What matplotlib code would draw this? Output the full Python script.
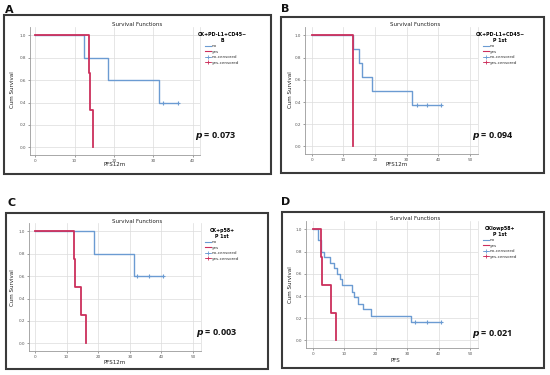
import matplotlib.pyplot as plt
from matplotlib.lines import Line2D
from matplotlib.patches import Rectangle

# ---- data ----
A_no_t = [0, 12.3, 18.6, 31.4, 36.3]
A_no_s = [1.0, 0.8, 0.6, 0.4, 0.4]
A_no_cens = [32.4, 36.3]
A_no_cens_s = [0.4, 0.4]
A_yes_t = [0, 13.6, 14.0, 14.7]
A_yes_s = [1.0, 0.667, 0.333, 0.0]

B_no_t = [0, 12.9, 14.8, 16.0, 18.9, 31.6, 40.7]
B_no_s = [1.0, 0.875, 0.75, 0.625, 0.5, 0.375, 0.375]
B_no_cens = [33.2, 36.3, 40.7]
B_no_cens_s = [0.375, 0.375, 0.375]
B_yes_t = [0, 12.9]
B_yes_s = [1.0, 0.0]

C_no_t = [0, 18.6, 31.4, 40.4]
C_no_s = [1.0, 0.8, 0.6, 0.6]
C_no_cens = [32.2, 36.2, 40.4]
C_no_cens_s = [0.6, 0.6, 0.6]
C_yes_t = [0, 12.2, 12.7, 14.6, 16.0]
C_yes_s = [1.0, 0.75, 0.5, 0.25, 0.0]

D_no_t = [0, 1.8, 2.6, 3.7, 5.5, 6.9, 7.6, 8.7, 9.2, 12.4, 13.2, 14.5, 16.1, 18.6, 31.3, 40.6]
D_no_s = [1.0, 0.9, 0.8, 0.75, 0.7, 0.65, 0.6, 0.55, 0.5, 0.44, 0.39, 0.33, 0.28, 0.22, 0.167, 0.167]
D_no_cens = [32.5, 36.2, 40.6]
D_no_cens_s = [0.167, 0.167, 0.167]
D_yes_t = [0, 2.6, 3.0, 5.8, 7.4]
D_yes_s = [1.0, 0.75, 0.5, 0.25, 0.0]

letters = ["A", "B", "C", "D"]
legend_titles = ["CK+PD-L1+CD45\u2212\nB", "CK+PD-L1+CD45\u2212\nP 1st",
                 "CK+p58+\nP 1st", "CKlowp58+\nP 1st"]
x_labels = ["PFS12m", "PFS12m", "PFS12m", "PFS"]
p_texts = ["0.073", "0.094", "0.003", "0.021"]
x_ticks = [[0, 10, 20, 30, 40], [0, 10, 20, 30, 40, 50],
           [0, 10, 20, 30, 40, 50], [0, 10, 20, 30, 40, 50]]
y_ticks = [0.0, 0.2, 0.4, 0.6, 0.8, 1.0]
y_ticklabels = ["0.0", "0.2", "0.4", "0.6", "0.8", "1.0"]

series = [
    (A_no_t, A_no_s, A_no_cens, A_no_cens_s, A_yes_t, A_yes_s),
    (B_no_t, B_no_s, B_no_cens, B_no_cens_s, B_yes_t, B_yes_s),
    (C_no_t, C_no_s, C_no_cens, C_no_cens_s, C_yes_t, C_yes_s),
    (D_no_t, D_no_s, D_no_cens, D_no_cens_s, D_yes_t, D_yes_s),
]

W, H = 550, 375
BLUE = "#6b9bd2"
RED = "#cc2f5c"

# layout in pixels: axes (left, right, top, bottom), xlim, box, letter pos
layout = [
    dict(ax=(30, 200, 27, 155), xlim=(-1.3, 41.8), box=(4, 271, 15, 174), letter=(5, 10),
         title=(137, 25), ylab=(13, 90), xlab=(115, 165), p=(195, 136), leg=(222, 30)),
    dict(ax=(305, 478, 27, 154), xlim=(-2.1, 52.5), box=(281, 544, 17, 173), letter=(281, 9),
         title=(415, 25), ylab=(290, 90), xlab=(397, 164), p=(472, 136), leg=(500, 30)),
    dict(ax=(29, 201, 223, 351), xlim=(-1.9, 52.5), box=(6, 268, 213, 369), letter=(7, 203.5),
         title=(137, 221), ylab=(13, 288), xlab=(115, 363), p=(196, 333), leg=(222, 226)),
    dict(ax=(306, 478, 221, 348), xlim=(-2.1, 52.4), box=(282, 544, 212, 368), letter=(281, 202),
         title=(415, 219), ylab=(290, 285), xlab=(395, 361), p=(472, 334), leg=(500, 224)),
]

fig = plt.figure(figsize=(W / 100, H / 100), dpi=100)
fig.patch.set_facecolor("white")

def fx(px):
    return px / W

def fy(py):
    return 1 - py / H

for i, L in enumerate(layout):
    no_t, no_s, no_c, no_cs, yes_t, yes_s = series[i]
    l, r, t, b = L["ax"]
    ax = fig.add_axes([fx(l), fy(b), (r - l) / W, (b - t) / H])
    ax.step(no_t, no_s, where="post", color=BLUE, lw=1.0)
    ax.plot(no_c, no_cs, ls="none", marker="+", ms=3.5, mew=0.8, color=BLUE)
    ax.step(yes_t, yes_s, where="post", color=RED, lw=1.3)
    ax.set_xlim(*L["xlim"])
    ax.set_ylim(-0.068, 1.075)
    ax.set_xticks(x_ticks[i])
    ax.set_xticklabels([str(v) for v in x_ticks[i]])
    ax.set_yticks(y_ticks)
    ax.set_yticklabels(y_ticklabels)
    ax.tick_params(labelsize=3, length=1.5, width=0.4, pad=1.5, colors="#555555")
    ax.grid(True, color="#dcdcdc", lw=0.5)
    ax.set_axisbelow(True)
    ax.spines["top"].set_visible(False)
    ax.spines["right"].set_color("#dcdcdc")
    ax.spines["right"].set_linewidth(0.5)
    for s in ("left", "bottom"):
        ax.spines[s].set_color("#9a9a9a")
        ax.spines[s].set_linewidth(0.6)

    handles = [
        Line2D([], [], color=BLUE, lw=0.8),
        Line2D([], [], color=RED, lw=0.8),
        Line2D([], [], color=BLUE, lw=0.6, marker="+", ms=3, mew=0.6),
        Line2D([], [], color=RED, lw=0.6, marker="+", ms=3, mew=0.6),
    ]
    leg = fig.legend(handles, ["no", "yes", "no-censored", "yes-censored"],
                     loc="upper center", bbox_to_anchor=(fx(L["leg"][0]), fy(L["leg"][1])),
                     fontsize=3, frameon=False, handlelength=1.4, handletextpad=0.3,
                     labelspacing=0.35, borderpad=0, title=legend_titles[i],
                     title_fontproperties=dict(size=3.4, weight="bold"), alignment="center")
    for txt in leg.get_texts():
        txt.set_color("#333333")
    leg.get_title().set_multialignment("center")

    fig.text(fx(L["title"][0]), fy(L["title"][1]), "Survival Functions",
             ha="center", va="center", fontsize=4, color="#222222")
    fig.text(fx(L["ylab"][0]), fy(L["ylab"][1]), "Cum Survival", rotation=90,
             ha="center", va="center", fontsize=4, color="#222222")
    fig.text(fx(L["xlab"][0]), fy(L["xlab"][1]), x_labels[i],
             ha="center", va="center", fontsize=4, color="#222222")
    fig.text(fx(L["p"][0]), fy(L["p"][1]), r"$\mathbfit{p}$ = " + p_texts[i],
             ha="left", va="center", fontsize=6.5, fontweight="bold",
             family="Open Sans", color="#111111")
    fig.text(fx(L["letter"][0]), fy(L["letter"][1]), letters[i],
             ha="left", va="center", fontsize=8, fontweight="bold", color="#111111")

    bl, br, bt, bb = L["box"]
    fig.patches.append(Rectangle((fx(bl), fy(bb)), (br - bl) / W, (bb - bt) / H,
                                 transform=fig.transFigure, fill=False,
                                 edgecolor="#3a3a3a", lw=1.5))

fig.savefig("out.png", dpi=100)
